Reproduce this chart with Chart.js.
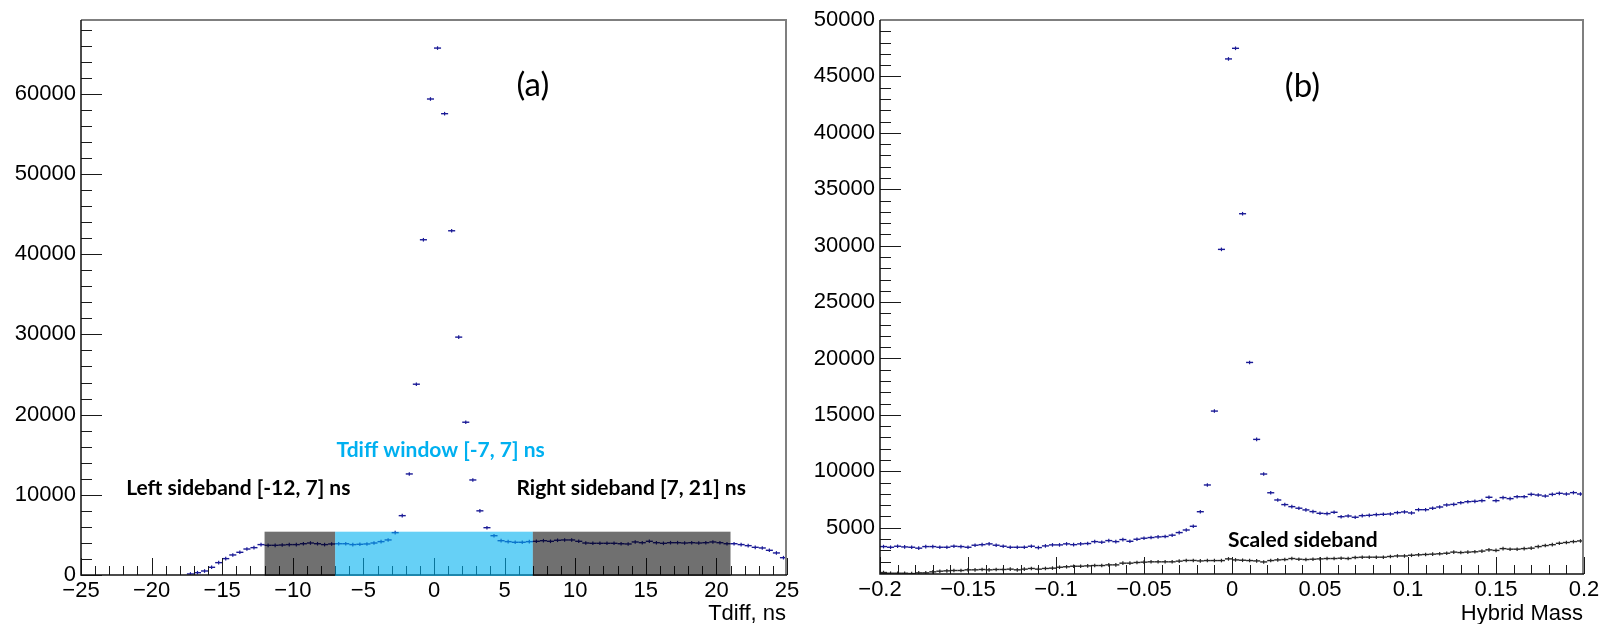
<!DOCTYPE html>
<html>
<head>
<meta charset="utf-8">
<script src="https://cdn.jsdelivr.net/npm/chart.js@4/dist/chart.umd.min.js"></script>
<style>
  html, body { margin: 0; padding: 0; background: #fff; }
  #wrap { position: relative; width: 1613px; height: 624px; overflow: hidden; }
  canvas { position: absolute; top: 0; }
</style>
</head>
<body>
<div id="wrap">
  <canvas id="tdiff" width="806" height="624" style="left:0"></canvas>
  <canvas id="mass" width="807" height="624" style="left:806px"></canvas>
</div>
<script>
// ---- Tdiff histogram: 100 bins of 0.5 ns over [-25, 25] ns ----
const tdiffRange = [-25, 25];
const tdiffCounts = [
  0, 0, 0, 0, 0, 0, 0, 0, 0, 0,
  0, 0, 0, 0, 0, 130, 290, 500, 960, 1540,
  2040, 2500, 2830, 3240, 3410, 3790, 3700, 3700, 3740, 3790,
  3790, 3900, 3990, 3900, 3790, 3870, 3900, 3900, 3790, 3830,
  3870, 3990, 4160, 4370, 5280, 7400, 12600, 23790, 41800, 59350,
  65700, 57520, 42920, 29660, 19050, 11850, 8000, 5900, 4900, 4280,
  4160, 4080, 4080, 4160, 4200, 4280, 4200, 4330, 4370, 4370,
  4200, 3990, 3950, 3950, 3950, 3950, 3900, 3870, 4120, 4030,
  4200, 4030, 3950, 4030, 4030, 3990, 4030, 3990, 4030, 4120,
  4030, 3900, 3900, 3790, 3660, 3450, 3370, 3080, 2750, 2160
];
const tdiffXTicks = [-25, -20, -15, -10, -5, 0, 5, 10, 15, 20, 25];
const tdiffYTicks = [0, 10000, 20000, 30000, 40000, 50000, 60000];

// ---- Hybrid mass histograms: 100 bins over [-0.2, 0.2] ----
const massRange = [-0.2, 0.2];
const massCounts = [
  3330, 3270, 3360, 3300, 3270, 3190, 3330, 3330, 3270, 3270,
  3360, 3330, 3270, 3450, 3500, 3570, 3450, 3360, 3270, 3270,
  3270, 3360, 3240, 3390, 3480, 3480, 3570, 3500, 3570, 3600,
  3770, 3720, 3860, 3770, 3950, 3800, 3980, 4070, 4130, 4190,
  4220, 4340, 4570, 4800, 5130, 6420, 8790, 15340, 29670, 46550,
  47490, 32830, 19650, 12830, 9760, 8100, 7460, 7050, 6870, 6730,
  6580, 6430, 6280, 6250, 6370, 5980, 6040, 5930, 6070, 6100,
  6160, 6190, 6220, 6340, 6400, 6310, 6600, 6600, 6730, 6840,
  7020, 7070, 7220, 7310, 7340, 7400, 7700, 7400, 7670, 7580,
  7750, 7750, 7960, 7900, 7810, 7960, 8050, 7990, 8110, 7990
];
const sidebandCounts = [
  1030, 970, 970, 970, 940, 1000, 1000, 1090, 1150, 1180,
  1210, 1210, 1270, 1270, 1300, 1270, 1300, 1300, 1330, 1270,
  1330, 1390, 1330, 1390, 1420, 1500, 1540, 1590, 1590, 1620,
  1650, 1650, 1710, 1710, 1860, 1860, 1920, 1950, 1980, 1980,
  1980, 1980, 2040, 2100, 2100, 2060, 2090, 2090, 2090, 2240,
  2150, 2120, 2090, 2060, 1970, 2090, 2150, 2180, 2270, 2210,
  2180, 2210, 2240, 2270, 2270, 2300, 2270, 2360, 2390, 2390,
  2390, 2390, 2450, 2500, 2500, 2560, 2600, 2630, 2660, 2690,
  2740, 2840, 2800, 2840, 2870, 2930, 3040, 2990, 3150, 3100,
  3100, 3150, 3190, 3330, 3420, 3500, 3620, 3690, 3770, 3830
];
const massXTicks = [-0.2, -0.15, -0.1, -0.05, 0, 0.05, 0.1, 0.15, 0.2];
const massYTicks = [5000, 10000, 15000, 20000, 25000, 30000, 35000, 40000, 45000, 50000];

// ---- helpers ----
function binCenters(range, n) {
  const w = (range[1] - range[0]) / n;
  return Array.from({ length: n }, (_, i) => range[0] + w * (i + 0.5));
}
function signedLabel(v) {
  const s = String(+Math.abs(v).toFixed(4));
  return v < 0 ? '\u2212' + s : s;
}
const tickFont = { family: "'Liberation Sans', Arial, sans-serif", size: 22 };

// Each bin drawn ROOT-style: a horizontal bar over the bin width plus a short error tick.
function histDatasets(range, counts, color) {
  const centers = binCenters(range, counts.length);
  const binW = (range[1] - range[0]) / counts.length;
  const data = counts.map((c, i) => ({ x: centers[i], y: c }));
  const halfBin = ctx => {
    if (!ctx.raw || ctx.raw.y === 0) return 0;
    const s = ctx.chart.scales.x;
    return Math.abs(s.getPixelForValue(binW) - s.getPixelForValue(0)) / 2;
  };
  const errTick = ctx => (!ctx.raw || ctx.raw.y === 0) ? 0 : 1.8;
  return [
    { data, showLine: false, pointStyle: 'line', rotation: 0, pointRadius: halfBin,
      pointBorderColor: color, pointBackgroundColor: color, pointBorderWidth: 1.4 },
    { data, showLine: false, pointStyle: 'line', rotation: 90, pointRadius: errTick,
      pointBorderColor: color, pointBackgroundColor: color, pointBorderWidth: 1.2 }
  ];
}

// Frame with inward major/minor ticks, drawn over the data.
function framePlugin(cfg) {
  return {
    id: 'frame',
    afterDatasetsDraw(chart) {
      const { ctx, chartArea: a, scales: { x, y } } = chart;
      ctx.save();
      ctx.lineWidth = 1;
      ctx.strokeStyle = '#1a1a1a';
      const isMajor = (v, list) => list.some(t => Math.abs(t - v) < 1e-9);
      // x ticks
      const nx = Math.round((x.max - x.min) / cfg.xMinor);
      ctx.beginPath();
      for (let i = 0; i <= nx; i++) {
        const v = x.min + i * cfg.xMinor;
        const px = Math.round(x.getPixelForValue(v)) + 0.5;
        const len = isMajor(+v.toFixed(6), cfg.xMajors) ? cfg.xMajorLen : cfg.xMinorLen;
        ctx.moveTo(px, a.bottom);
        ctx.lineTo(px, a.bottom - len);
      }
      // y ticks
      const startY = Math.ceil(y.min / cfg.yMinor) * cfg.yMinor;
      for (let v = startY; v <= y.max + 1e-6; v += cfg.yMinor) {
        const py = Math.round(y.getPixelForValue(v)) + 0.5;
        const len = isMajor(v, cfg.yMajors) ? cfg.yMajorLen : cfg.yMinorLen;
        ctx.moveTo(a.left, py);
        ctx.lineTo(a.left + len, py);
      }
      ctx.stroke();
      // top and right border
      ctx.strokeStyle = '#7f7f7f';
      ctx.lineWidth = 2;
      ctx.beginPath();
      ctx.moveTo(a.left, a.top);
      ctx.lineTo(a.right - 1, a.top);
      ctx.lineTo(a.right - 1, a.bottom);
      ctx.stroke();
      // axes lines
      ctx.strokeStyle = '#111';
      ctx.lineWidth = 1.5;
      ctx.beginPath();
      ctx.moveTo(a.left, a.top);
      ctx.lineTo(a.left, a.bottom);
      ctx.lineTo(a.right, a.bottom);
      ctx.stroke();
      ctx.restore();
    }
  };
}

// Semi-transparent windows laid over the Tdiff histogram.
function bandsPlugin(bands) {
  return {
    id: 'bands',
    afterDraw(chart) {
      const { ctx, scales: { x, y } } = chart;
      ctx.save();
      bands.forEach(b => {
        const x0 = x.getPixelForValue(b.from), x1 = x.getPixelForValue(b.to);
        const y0 = y.getPixelForValue(b.top), y1 = y.getPixelForValue(y.min);
        ctx.fillStyle = b.color;
        ctx.fillRect(x0, y0, x1 - x0, y1 - y0 + 1);
      });
      ctx.restore();
    }
  };
}

// Text labels placed in data coordinates, plus the axis title.
function labelsPlugin(items, axisTitle) {
  return {
    id: 'labels',
    afterDraw(chart) {
      const { ctx, chartArea: a, scales: { x, y } } = chart;
      ctx.save();
      items.forEach(t => {
        ctx.font = t.font;
        ctx.fillStyle = t.color;
        ctx.textAlign = t.align;
        ctx.textBaseline = t.baseline;
        ctx.fillText(t.text, x.getPixelForValue(t.x), y.getPixelForValue(t.y));
      });
      ctx.font = "22px 'Liberation Sans', Arial, sans-serif";
      ctx.fillStyle = '#000';
      ctx.textAlign = 'right';
      ctx.textBaseline = 'alphabetic';
      ctx.fillText(axisTitle, a.right - 1, 620);
      ctx.restore();
    }
  };
}

function scaleOpts(range, ticksList, fmt, fitSize, horizontal) {
  return {
    type: 'linear',
    min: range[0], max: range[1],
    grid: { display: false, drawTicks: false },
    border: { display: false },
    afterBuildTicks: s => { s.ticks = ticksList.map(v => ({ value: v })); },
    afterFit: s => { if (horizontal) s.height = fitSize; else s.width = fitSize; },
    ticks: { autoSkip: false, maxRotation: 0, padding: horizontal ? 3 : 5,
             color: '#000', font: tickFont, callback: fmt }
  };
}

const bold = "bold 21px Lato, 'Open Sans', sans-serif";
const paren = "33px Lato, 'Open Sans', sans-serif";

function build() {
  new Chart(document.getElementById('tdiff'), {
    type: 'scatter',
    data: { datasets: histDatasets(tdiffRange, tdiffCounts, '#1a1a96') },
    options: {
      responsive: false, animation: false, devicePixelRatio: 1, events: [],
      layout: { padding: { left: 0, right: 19, top: 20, bottom: 0 } },
      plugins: { legend: { display: false }, tooltip: { enabled: false } },
      scales: {
        x: scaleOpts(tdiffRange, tdiffXTicks, v => signedLabel(v), 49, true),
        y: scaleOpts([0, 69200], tdiffYTicks, v => String(Math.round(v)), 81, false)
      }
    },
    plugins: [
      framePlugin({ xMinor: 1, xMajors: tdiffXTicks, xMajorLen: 17, xMinorLen: 9,
                    yMinor: 2000, yMajors: tdiffYTicks, yMajorLen: 21, yMinorLen: 11 }),
      bandsPlugin([
        { from: -12, to: -7, top: 5400, color: 'rgba(0,0,0,0.56)' },
        { from: -7, to: 7, top: 5400, color: 'rgba(0,176,240,0.6)' },
        { from: 7, to: 21, top: 5400, color: 'rgba(0,0,0,0.56)' }
      ]),
      labelsPlugin([
        { text: '(a)', x: 7, y: 61000, font: paren, color: '#000', align: 'center', baseline: 'middle' },
        { text: 'Tdiff window [-7, 7] ns', x: -6.9, y: 14690, font: bold, color: '#00b0f0', align: 'left', baseline: 'alphabetic' },
        { text: 'Left sideband [-12, 7] ns', x: -21.8, y: 9980, font: bold, color: '#000', align: 'left', baseline: 'alphabetic' },
        { text: 'Right sideband [7, 21] ns', x: 5.84, y: 9980, font: bold, color: '#000', align: 'left', baseline: 'alphabetic' }
      ], 'Tdiff, ns')
    ]
  });

  new Chart(document.getElementById('mass'), {
    type: 'scatter',
    data: { datasets: histDatasets(massRange, massCounts, '#1a1a96').concat(histDatasets(massRange, sidebandCounts, '#262626')) },
    options: {
      responsive: false, animation: false, devicePixelRatio: 1, events: [],
      layout: { padding: { left: 0, right: 29, top: 20, bottom: 0 } },
      plugins: { legend: { display: false }, tooltip: { enabled: false } },
      scales: {
        x: scaleOpts(massRange, massXTicks, v => signedLabel(v), 50, true),
        y: scaleOpts([900, 50000], massYTicks, v => String(Math.round(v)), 74, false)
      }
    },
    plugins: [
      framePlugin({ xMinor: 0.01, xMajors: massXTicks, xMajorLen: 17, xMinorLen: 9,
                    yMinor: 1000, yMajors: massYTicks, yMajorLen: 21, yMinorLen: 11 }),
      labelsPlugin([
        { text: '(b)', x: 0.04, y: 44100, font: paren, color: '#000', align: 'center', baseline: 'middle' },
        { text: 'Scaled sideband', x: -0.0023, y: 3275, font: bold, color: '#000', align: 'left', baseline: 'alphabetic' }
      ], 'Hybrid Mass')
    ]
  });
}

const fontLoads = [bold, paren, "22px 'Liberation Sans'"].map(f => document.fonts.load(f).catch(() => null));
Promise.all(fontLoads).then(build, build);
</script>
</body>
</html>
